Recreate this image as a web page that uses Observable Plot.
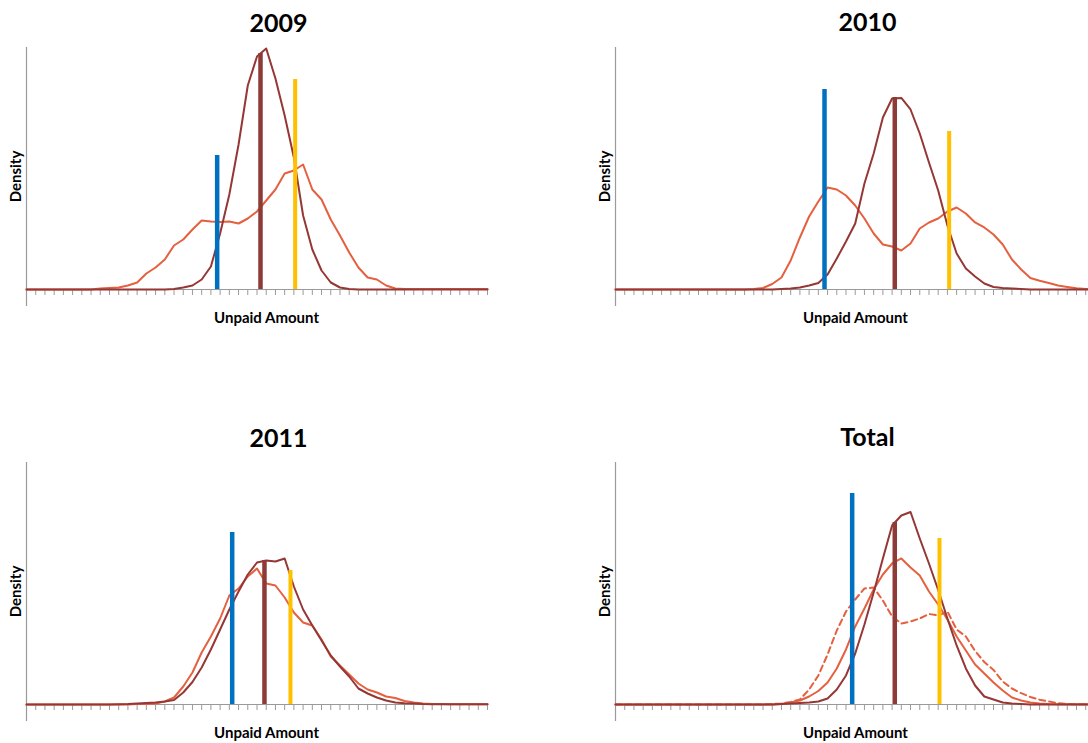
<!DOCTYPE html>
<html><head><meta charset="utf-8">
<script src="https://cdn.jsdelivr.net/npm/d3@7"></script>
<script src="https://cdn.jsdelivr.net/npm/@observablehq/plot@0.6"></script>
<style>
html,body{margin:0;padding:0;background:#fff;overflow:hidden;width:1088px;height:743px;}
#wrap{position:relative;width:1088px;height:743px;overflow:hidden;}
.panel{position:absolute;}
</style></head><body><div id="wrap"></div>
<script>
// category grid (points sit on tick marks)
const ticksLeft = d3.range(0, 51);
const ticksRight = d3.range(0, 53);
const panelNames = ["2009", "2010", "2011", "Total"];
const xLabel = "Unpaid Amount";
const yLabel = "Density";

// density curves (arbitrary units), one value per category
const darkRed2009 = [0,0,0,0,0,0,0,0,0,0,0,0,0,0,0,0, 0.5,2,4,10,23,56,95,145,204,233,241,211,174,132,74,40,19,7,2,0.5, 0,0,0,0,0,0,0,0,0,0,0,0,0,0,0];
const orange2009  = [0,0,0,0,0,0,0,0, 1,1.5,2,4,7,16,22,30,44,50,60,69,68,67.5,68,66,71,78,89,100,116,119,125,100,90,70,54,37,22,12,10,4,1, 0.5,0.5,0.5,0.5,0.5,0.5,0.5,0.5,0.5,0.5];
const darkRed2010 = [0,0,0,0,0,0,0,0,0,0,0,0,0,0,0,0,0,0, 0.5,1,2,4,6.5,15,31,48,66,106,136,172,191,191.5,180,156,127,99,64,36,21,13,6,2.5,1.5,1,0.5, 0,0,0,0,0,0,0,0];
const orange2010  = [0,0,0,0,0,0,0,0,0,0,0,0,0,0,0, 0.5,1.5,5.5,12,29,52,73,88,102,100,94,84,71,56,45,43,39,46,61,67,71,78,82,76,67,62,55,45,30,20,11.5,8.7,6.4,4,2.5,1.2,0.6,0.3];
const darkRed2011 = [0,0,0,0,0,0,0,0,0,0, 0.3,0.5,1,1.5,2,3,4.5,12,22.5,37,55,75,95,113,130,142,144,143,146,118,95,79,64,49,38,28,16,11,7,4,2,1.3,1,0.5, 0.3,0.3,0.3,0.3,0.3,0.3,0.3];
const orange2011  = [0,0,0,0,0,0,0,0,0,0,0,0, 0.5,0.5,1,3,7,18,32,52,68,86,109,116,128,136,121,119,107,92,82,79,65,48,39,30,21,15,12,8,6.5,3.5,2,1,0.6,0.4, 0.3,0.3,0.3,0.3,0.3];
const darkRedTotal = [0,0,0,0,0,0,0,0,0,0,0,0,0,0,0,0,0,0, 0.5,1,1.5,2,3,6,15,29,51,80,112,146,179,189,192.5,166,141,114.5,86,59,36,19,8,5,2,1,0.5, 0,0,0,0,0,0,0,0];
const orangeTotal  = [0,0,0,0,0,0,0,0,0,0,0,0,0,0,0,0,0,0, 0.5,2,4,8,13.5,22,36,55,78,96,115,130,141,146,137,129,113,100,85,68,54,40,31,22,14,7,4,2,1,0.5, 0.3,0.3,0.3,0.3,0.3];
const dashedTotal  = [0,0,0,0,0,0,0,0,0,0,0,0,0,0,0,0,0, 0.5,1,2.5,5,15,29,50,74,93,105,116,117,104,88,81,83,86,90.5,89,93,75,68,53.5,42.5,34.5,23,16,11.3,7.5,4.8,3,1.3,0.5,0.3,0.2,0.2];

// reference markers: position (category units) and height
const markerNames = ["blue", "darkred", "yellow"];
const markerPos2009 = [20.68, 25.38, 29.14];
const markerHgt2009 = [134, 236, 210];
const markerPos2010 = [22.67, 30.29, 36.19];
const markerHgt2010 = [200, 192, 158];
const markerPos2011 = [22.31, 25.81, 28.63];
const markerHgt2011 = [172, 144, 134];
const markerPosTotal = [25.67, 30.29, 35.14];
const markerHgtTotal = [211, 182, 166];

const colors = {darkred: "#953735", orange: "#E4603F", blue: "#0070C0", yellow: "#FFC000", axis: "#9A9A9A", barRed: "#8E3A36"};
const markerColors = {blue: colors.blue, darkred: colors.barRed, yellow: colors.yellow};
const markerWidths = {blue: 4.5, darkred: 4.5, yellow: 4};

const panels = [
  {name: panelNames[0], ticks: ticksLeft, curves: [{v: orange2009, c: colors.orange}, {v: darkRed2009, c: colors.darkred}], pos: markerPos2009, hgt: markerHgt2009, left: 0, top: 0},
  {name: panelNames[1], ticks: ticksRight, curves: [{v: orange2010, c: colors.orange}, {v: darkRed2010, c: colors.darkred}], pos: markerPos2010, hgt: markerHgt2010, left: 589, top: 0},
  {name: panelNames[2], ticks: ticksLeft, curves: [{v: orange2011, c: colors.orange}, {v: darkRed2011, c: colors.darkred}], pos: markerPos2011, hgt: markerHgt2011, left: 0, top: 415},
  {name: panelNames[3], ticks: ticksRight, curves: [{v: dashedTotal, c: colors.orange, dash: "6,4"}, {v: orangeTotal, c: colors.orange}, {v: darkRedTotal, c: colors.darkred}], pos: markerPosTotal, hgt: markerHgtTotal, left: 589, top: 415}
];

const font = "Lato, 'Open Sans', sans-serif";
const wrap = document.getElementById("wrap");
const step = 461 / 50; // pixel width of one category

for (const p of panels) {
  const n = p.ticks.length - 1;
  const lineMarks = p.curves.map(c => Plot.line(c.v.map((v, i) => ({k: p.ticks[i], v})), {
    x: "k", y: "v", stroke: c.c, strokeWidth: 2, strokeDasharray: c.dash, strokeLinejoin: "round"
  }));
  const markers = markerNames.map((nm, i) => ({n: nm, x: p.pos[i], h: p.hgt[i]}));
  const barMarks = markers.map(m => Plot.ruleX([m], {x: "x", y1: 0, y2: "h", stroke: markerColors[m.n], strokeWidth: markerWidths[m.n]}));
  const svg = Plot.plot({
    width: 26 + 57 + n * step, height: 330,
    marginLeft: 26, marginRight: 57, marginTop: 47, marginBottom: 41,
    x: {domain: [0, n], axis: null},
    y: {domain: [0, 242], axis: null},
    style: {background: "transparent", fontFamily: font, overflow: "visible"},
    marks: [
      Plot.axisX({anchor: "bottom", ticks: p.ticks, tickSize: 6, tickFormat: () => "", stroke: colors.axis, label: null}),
      Plot.ruleY([0], {stroke: colors.axis, strokeWidth: 1.2}),
      Plot.ruleX([0], {stroke: colors.axis, strokeWidth: 1.2, insetBottom: -17}),
      ...lineMarks,
      ...barMarks,
      Plot.text([p.name], {frameAnchor: "top-left", textAnchor: "middle", lineAnchor: "middle", dx: 252, dy: -24, fontSize: 25, fontWeight: "bold", fill: "#000"}),
      Plot.text([xLabel], {frameAnchor: "bottom-left", textAnchor: "middle", lineAnchor: "middle", dx: 240, dy: 29, fontSize: 15, fontWeight: "bold", fill: "#000"}),
      Plot.text([yLabel], {frameAnchor: "left", textAnchor: "middle", lineAnchor: "middle", dx: -10, dy: 8, rotate: -90, fontSize: 15, fontWeight: "bold", fill: "#000"})
    ]
  });
  svg.classList.add("panel");
  svg.style.left = p.left + "px";
  svg.style.top = p.top + "px";
  wrap.appendChild(svg);
}
</script>
</body></html>
